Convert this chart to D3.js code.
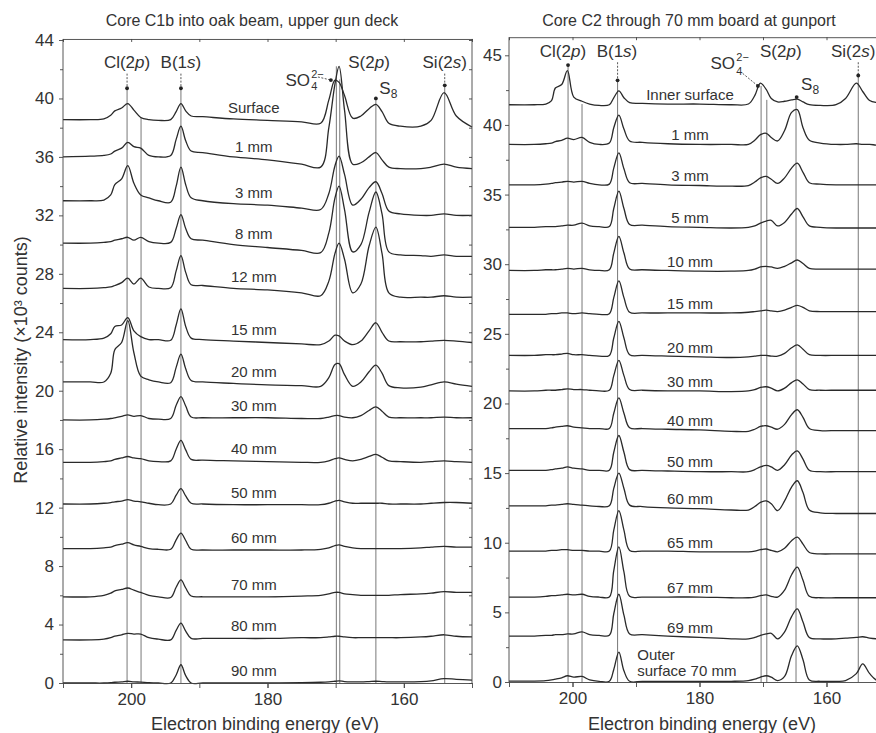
<!DOCTYPE html>
<html>
<head>
<meta charset="utf-8">
<script src="https://cdn.jsdelivr.net/npm/d3@7"></script>
<style>
  body { margin: 0; background: #fff; }
  svg { font-family: "Liberation Sans", Arial, Helvetica, sans-serif; }
  .trace { fill: none; stroke: #2a2a2a; stroke-width: 1.3; }
  .ref { stroke: #555; stroke-width: 0.8; }
  .axis path, .axis line { stroke: #444; stroke-width: 0.9; }
  .axis text { font-size: 17px; fill: #333; }
  .lbl { font-size: 15px; fill: #333; }
  .ann { font-size: 17px; fill: #333; }
</style>
</head>
<body>
<svg width="876" height="733"></svg>
<script>
// ---- left panel: core C1b into oak beam ----
// energy grid (eV), shared by every spectrum of the panel
var energyLeft = [210, 206, 204, 203, 202.4, 201.4, 200.5, 199.6, 198.6, 197.4, 196, 194.2, 193.4, 192.7, 192.0, 191.2, 189.5, 185, 180, 175,
                  172.2, 171.0, 170.1, 169.5, 168.7, 167.5, 166.3, 165.1, 164.1, 163.2, 162.2, 160.5, 157.5, 156, 154.1, 152.3, 150];
var labelsLeft = ["Surface", "1 mm", "3 mm", "8 mm", "12 mm", "15 mm", "20 mm", "30 mm", "40 mm", "50 mm", "60 mm", "70 mm", "80 mm", "90 mm"];
// intensities, x10^3 counts (offset spectra as printed)
var surfaceL = [38.55, 38.55, 38.6, 38.85, 39.15, 39.35, 39.65, 39.2, 38.7, 38.55, 38.5, 38.55, 39.1, 39.65, 39.15, 38.8, 38.75, 38.6, 38.5, 38.4, 38.3, 39.9, 41.25, 41.1, 40.2, 38.65, 38.8, 39.3, 39.6, 39.1, 38.3, 38.1, 38.1, 38.5, 40.4, 38.8, 38.05];
var mm1L  = [36.0, 36.05, 36.1, 36.2, 36.4, 36.6, 37.0, 36.7, 36.6, 36.1, 36.0, 36.1, 37.2, 38.1, 37.1, 36.4, 36.3, 36.0, 35.8, 35.5, 35.3, 38.0, 41.0, 42.2, 39.2, 35.5, 35.6, 36.0, 36.3, 35.8, 35.3, 35.2, 35.2, 35.3, 35.5, 35.3, 35.2];
var mm3L  = [33.0, 33.0, 33.05, 33.4, 34.1, 34.5, 35.4, 34.2, 33.4, 33.2, 33.0, 32.9, 34.0, 35.3, 34.1, 33.2, 33.0, 32.8, 32.7, 32.5, 32.4, 33.5, 35.4, 36.05, 34.8, 32.7, 33.1, 33.9, 34.3, 33.5, 32.3, 32.1, 32.0, 32.0, 32.1, 32.0, 32.0];
var mm8L  = [30.1, 30.1, 30.15, 30.2, 30.3, 30.4, 30.5, 30.3, 30.5, 30.2, 30.1, 30.15, 31.1, 32.05, 31.1, 30.4, 30.3, 30.0, 29.8, 29.6, 29.45, 30.8, 33.2, 34.0, 32.4, 29.5, 30.0, 32.2, 33.6, 32.1, 29.5, 29.3, 29.25, 29.2, 29.3, 29.2, 29.2];
var mm12L = [27.0, 27.0, 27.05, 27.1, 27.2, 27.4, 27.7, 27.3, 27.7, 27.1, 27.0, 27.05, 28.2, 29.25, 28.1, 27.25, 27.2, 27.0, 26.9, 26.7, 26.5, 27.5, 29.4, 30.1, 29.0, 26.7, 27.3, 29.9, 31.2, 29.4, 26.7, 26.4, 26.4, 26.4, 26.5, 26.4, 26.4];
var mm15L = [23.5, 23.5, 23.6, 23.9, 24.4, 24.5, 25.0, 24.1, 23.7, 23.5, 23.5, 23.45, 24.5, 25.6, 24.4, 23.6, 23.5, 23.4, 23.3, 23.2, 23.15, 23.4, 23.8, 23.75, 23.4, 23.15, 23.4, 24.1, 24.65, 24.0, 23.4, 23.35, 23.35, 23.4, 23.45, 23.4, 23.3];
var mm20L = [20.6, 20.6, 20.6, 21.2, 22.8, 23.3, 24.8, 22.6, 21.0, 20.75, 20.6, 20.55, 21.6, 22.5, 21.5, 20.7, 20.6, 20.5, 20.4, 20.35, 20.3, 20.9, 21.8, 21.85, 21.1, 20.3, 20.6, 21.3, 21.75, 21.2, 20.35, 20.2, 20.25, 20.4, 20.6, 20.45, 20.3];
var mm30L = [18.0, 18.0, 18.05, 18.1, 18.15, 18.25, 18.35, 18.25, 18.3, 18.1, 18.05, 18.1, 19.0, 19.6, 18.95, 18.2, 18.15, 18.15, 18.15, 18.1, 18.1, 18.2, 18.3, 18.3, 18.2, 18.15, 18.3, 18.65, 18.9, 18.6, 18.2, 18.15, 18.15, 18.15, 18.2, 18.15, 18.15];
var mm40L = [15.1, 15.1, 15.15, 15.2, 15.3, 15.4, 15.5, 15.4, 15.35, 15.2, 15.15, 15.2, 16.0, 16.6, 15.95, 15.3, 15.25, 15.2, 15.15, 15.1, 15.1, 15.2, 15.35, 15.4, 15.3, 15.2, 15.3, 15.5, 15.65, 15.45, 15.2, 15.15, 15.1, 15.15, 15.2, 15.15, 15.1];
var mm50L = [12.25, 12.25, 12.3, 12.35, 12.4, 12.45, 12.55, 12.45, 12.4, 12.3, 12.2, 12.25, 12.85, 13.3, 12.8, 12.3, 12.25, 12.2, 12.2, 12.2, 12.2, 12.3, 12.45, 12.5, 12.4, 12.3, 12.3, 12.3, 12.3, 12.3, 12.25, 12.25, 12.25, 12.3, 12.35, 12.35, 12.3];
var mm60L = [9.2, 9.2, 9.25, 9.3, 9.4, 9.5, 9.6, 9.45, 9.35, 9.2, 9.15, 9.15, 9.8, 10.25, 9.75, 9.15, 9.1, 9.1, 9.1, 9.1, 9.15, 9.25, 9.4, 9.45, 9.35, 9.25, 9.2, 9.2, 9.2, 9.2, 9.2, 9.2, 9.25, 9.3, 9.35, 9.3, 9.3];
var mm70L = [5.9, 5.9, 6.0, 6.15, 6.3, 6.4, 6.5, 6.35, 6.2, 6.0, 5.9, 5.85, 6.55, 7.05, 6.5, 5.95, 5.9, 5.9, 5.9, 5.95, 6.0, 6.1, 6.2, 6.2, 6.1, 6.05, 6.0, 6.0, 6.0, 6.0, 6.0, 6.05, 6.1, 6.15, 6.25, 6.2, 6.2];
var mm80L = [2.95, 2.95, 3.0, 3.1, 3.2, 3.3, 3.4, 3.35, 3.35, 3.1, 3.0, 2.95, 3.6, 4.1, 3.55, 3.05, 3.05, 3.05, 3.05, 3.1, 3.1, 3.15, 3.2, 3.2, 3.15, 3.1, 3.1, 3.1, 3.1, 3.1, 3.1, 3.1, 3.15, 3.2, 3.3, 3.2, 3.15];
var mm90L = [0.0, 0.0, 0.0, 0.02, 0.05, 0.08, 0.12, 0.08, 0.06, 0.02, 0.0, 0.0, 0.55, 1.25, 0.5, 0.0, 0.0, 0.0, 0.0, 0.02, 0.05, 0.08, 0.12, 0.15, 0.1, 0.08, 0.08, 0.1, 0.12, 0.1, 0.08, 0.08, 0.1, 0.15, 0.3, 0.25, 0.2];
var tracesLeft = [surfaceL, mm1L, mm3L, mm8L, mm12L, mm15L, mm20L, mm30L, mm40L, mm50L, mm60L, mm70L, mm80L, mm90L];
// peak reference lines (eV) and the value where each line starts
var refLeft = [200.6, 198.55, 192.7, 169.9, 169.4, 164.1, 154.0];
var refLeftTop = [40.7, 38.7, 40.7, 42.2, 41.3, 40.0, 40.9];

// ---- right panel: core C2 through 70 mm board ----
var energyRight = [210, 206, 204.2, 203.3, 202.7, 201.7, 200.8, 199.8, 198.5, 197.3, 195.8, 194.2, 193.5, 192.7, 191.9, 191.0, 189, 185, 180, 175,
                   172.3, 171.3, 170.4, 169.5, 168.7, 167.7, 166.6, 165.5, 164.6, 163.7, 162.7, 161, 158.5, 157, 155.3, 154.3, 153.2, 152, 150];
var labelsRight = ["Inner surface", "1 mm", "3 mm", "5 mm", "10 mm", "15 mm", "20 mm", "30 mm", "40 mm", "50 mm", "60 mm", "65 mm", "67 mm", "69 mm", ""];
var innerR = [41.45, 41.45, 41.5, 41.75, 42.65, 42.9, 43.9, 42.0, 41.7, 41.5, 41.4, 41.45, 41.95, 42.45, 41.95, 41.6, 41.55, 41.5, 41.5, 41.45, 41.5, 42.1, 43.0, 42.55, 41.9, 41.65, 41.7, 41.8, 41.85, 41.65, 41.45, 41.4, 41.45, 41.9, 43.0, 42.4, 41.75, 41.6, 41.55];
var mm1R  = [38.6, 38.6, 38.65, 38.7, 38.8, 38.9, 39.05, 38.95, 39.1, 38.75, 38.6, 38.7, 39.8, 40.7, 39.7, 38.85, 38.75, 38.65, 38.6, 38.6, 38.6, 38.9, 39.3, 39.4, 39.1, 38.85, 39.6, 40.9, 41.1, 39.8, 38.9, 38.7, 38.6, 38.6, 38.65, 38.6, 38.6, 38.55, 38.55];
var mm3R  = [35.7, 35.7, 35.75, 35.8, 35.85, 35.9, 35.95, 35.9, 35.95, 35.8, 35.7, 35.75, 36.9, 38.0, 36.85, 35.85, 35.8, 35.7, 35.65, 35.6, 35.65, 35.9, 36.2, 36.3, 36.1, 35.8, 36.2, 36.9, 37.25, 36.6, 35.85, 35.75, 35.7, 35.7, 35.7, 35.7, 35.7, 35.7, 35.7];
var mm5R  = [32.65, 32.65, 32.7, 32.7, 32.7, 32.75, 32.8, 32.8, 32.95, 32.75, 32.7, 32.7, 34.0, 35.25, 34.0, 32.85, 32.8, 32.7, 32.65, 32.6, 32.65, 32.75, 32.95, 33.1, 33.15, 32.75, 33.0, 33.6, 34.0, 33.4, 32.75, 32.65, 32.6, 32.6, 32.6, 32.6, 32.6, 32.6, 32.6];
var mm10R = [29.55, 29.55, 29.6, 29.6, 29.6, 29.65, 29.7, 29.65, 29.7, 29.6, 29.55, 29.6, 30.8, 32.0, 30.8, 29.65, 29.6, 29.55, 29.5, 29.5, 29.55, 29.65, 29.8, 29.85, 29.8, 29.7, 29.85, 30.1, 30.3, 30.05, 29.7, 29.65, 29.65, 29.65, 29.65, 29.65, 29.65, 29.65, 29.65];
var mm15R = [26.4, 26.4, 26.4, 26.45, 26.45, 26.5, 26.5, 26.45, 26.5, 26.45, 26.4, 26.45, 27.6, 28.8, 27.6, 26.55, 26.5, 26.5, 26.5, 26.5, 26.55, 26.6, 26.65, 26.7, 26.65, 26.6, 26.7, 26.9, 27.05, 26.9, 26.65, 26.6, 26.6, 26.6, 26.6, 26.6, 26.6, 26.6, 26.6];
var mm20R = [23.45, 23.45, 23.5, 23.5, 23.5, 23.55, 23.6, 23.5, 23.5, 23.45, 23.4, 23.45, 24.7, 25.9, 24.7, 23.5, 23.45, 23.4, 23.35, 23.3, 23.35, 23.4, 23.45, 23.45, 23.4, 23.4, 23.6, 24.0, 24.2, 23.9, 23.5, 23.45, 23.45, 23.45, 23.45, 23.45, 23.45, 23.45, 23.45];
var mm30R = [20.9, 20.9, 20.95, 20.95, 20.95, 21.0, 21.05, 21.0, 21.0, 20.95, 20.9, 20.95, 22.0, 23.1, 22.0, 21.0, 20.95, 20.9, 20.9, 20.85, 20.9, 21.0, 21.15, 21.2, 21.1, 20.9, 21.1, 21.5, 21.7, 21.4, 21.0, 20.95, 20.95, 20.95, 20.95, 20.95, 20.95, 20.95, 20.95];
var mm40R = [18.2, 18.2, 18.2, 18.25, 18.3, 18.35, 18.4, 18.3, 18.25, 18.2, 18.2, 18.2, 19.3, 20.4, 19.3, 18.25, 18.2, 18.15, 18.1, 18.0, 18.0, 18.15, 18.35, 18.4, 18.3, 18.15, 18.5, 19.2, 19.55, 19.0, 18.2, 18.05, 18.05, 18.05, 18.05, 18.05, 18.05, 18.05, 18.05];
var mm50R = [15.2, 15.2, 15.2, 15.25, 15.3, 15.35, 15.45, 15.35, 15.3, 15.2, 15.2, 15.2, 16.5, 17.7, 16.5, 15.25, 15.2, 15.15, 15.1, 15.1, 15.1, 15.25, 15.45, 15.55, 15.45, 15.2, 15.6, 16.3, 16.6, 16.0, 15.2, 15.1, 15.1, 15.1, 15.1, 15.1, 15.1, 15.1, 15.1];
var mm60R = [12.65, 12.65, 12.65, 12.7, 12.7, 12.75, 12.8, 12.75, 12.7, 12.65, 12.6, 12.65, 13.9, 15.0, 13.9, 12.7, 12.6, 12.5, 12.45, 12.35, 12.35, 12.6, 12.9, 13.0, 12.8, 12.3, 13.0, 14.0, 14.45, 13.6, 12.35, 12.15, 12.1, 12.1, 12.1, 12.1, 12.1, 12.1, 12.1];
var mm65R = [9.4, 9.4, 9.4, 9.45, 9.45, 9.5, 9.5, 9.45, 9.45, 9.4, 9.4, 9.4, 10.9, 12.3, 10.9, 9.45, 9.4, 9.4, 9.35, 9.35, 9.35, 9.4, 9.5, 9.55, 9.45, 9.35, 9.6, 10.15, 10.4, 9.9, 9.3, 9.2, 9.2, 9.2, 9.2, 9.2, 9.2, 9.2, 9.2];
var mm67R = [6.1, 6.1, 6.15, 6.2, 6.2, 6.25, 6.3, 6.25, 6.3, 6.15, 6.1, 6.1, 8.0, 9.7, 7.9, 6.15, 6.1, 6.1, 6.1, 6.05, 6.05, 6.1, 6.2, 6.25, 6.15, 6.1, 6.6, 7.7, 8.25, 7.3, 6.15, 6.05, 6.05, 6.05, 6.05, 6.05, 6.05, 6.05, 6.05];
var mm69R = [3.3, 3.3, 3.35, 3.35, 3.4, 3.4, 3.45, 3.45, 3.6, 3.4, 3.35, 3.35, 4.9, 6.3, 4.8, 3.45, 3.4, 3.3, 3.2, 3.1, 3.1, 3.2, 3.35, 3.45, 3.5, 3.1, 3.6, 4.7, 5.25, 4.3, 3.2, 3.1, 3.1, 3.15, 3.2, 3.25, 3.15, 3.1, 3.1];
var outerR = [0.07, 0.07, 0.1, 0.15, 0.2, 0.3, 0.45, 0.35, 0.4, 0.15, 0.05, 0.05, 0.9, 2.15, 0.8, 0.05, 0.05, 0.05, 0.05, 0.05, 0.1, 0.2, 0.35, 0.45, 0.35, 0.1, 0.4, 1.9, 2.6, 1.6, 0.15, 0.05, 0.05, 0.1, 0.6, 1.3, 0.6, 0.1, 0.05];
var tracesRight = [innerR, mm1R, mm3R, mm5R, mm10R, mm15R, mm20R, mm30R, mm40R, mm50R, mm60R, mm65R, mm67R, mm69R, outerR];
var refRight = [200.7, 198.5, 192.9, 170.3, 169.4, 164.8, 155.0];
var refRightTop = [44.3, 41.5, 43.2, 42.8, 41.8, 42.0, 43.5];

var yTicksLeft = [0, 4, 8, 12, 16, 20, 24, 28, 32, 36, 40, 44];
var yTicksRight = [0, 5, 10, 15, 20, 25, 30, 35, 40, 45];
var xTicks = [200, 180, 160];
var xMinor = [210, 200, 190, 180, 170, 160, 150];

var svg = d3.select("svg");

// value of a spectrum at energy e, only used to seat the text labels
function valueAt(energy, vals, e) {
  for (var i = 0; i < energy.length - 1; i++) {
    if (e <= energy[i] && e >= energy[i + 1]) {
      var t = (energy[i] - e) / (energy[i] - energy[i + 1]);
      return vals[i] + t * (vals[i + 1] - vals[i]);
    }
  }
  return vals[0];
}

// Cl(2p) style label with the orbital letter in italics
function orbital(g, x, y, pre, letter, anchor) {
  var t = g.append("text").attr("class", "ann").attr("x", x).attr("y", y).attr("text-anchor", anchor || "middle");
  t.append("tspan").text(pre);
  t.append("tspan").attr("font-style", "italic").text(letter);
  t.append("tspan").text(")");
}

function pointer(g, x1, y1, x2, y2) {
  g.append("line").attr("x1", x1).attr("y1", y1).attr("x2", x2).attr("y2", y2)
    .attr("stroke", "#444").attr("stroke-width", 0.9).attr("stroke-dasharray", "2,1.5");
  g.append("circle").attr("cx", x2).attr("cy", y2).attr("r", 1.9).attr("fill", "#222");
}

// short ticks without labels
function bareTicks(sel) {
  sel.selectAll("text").remove();
  sel.select(".domain").remove();
}

function drawPanel(p) {
  var x = d3.scaleLinear().domain([210, 150]).range(p.xRange);
  var y = d3.scaleLinear().domain([0, p.yMax]).range(p.yRange);
  var g = svg.append("g");

  // reference lines through the peaks
  g.selectAll("line.ref").data(p.refs).enter().append("line")
    .attr("class", "ref")
    .attr("x1", function(d) { return x(d); })
    .attr("x2", function(d) { return x(d); })
    .attr("y1", function(d, i) { return y(p.refTops[i]); })
    .attr("y2", y(0));

  // spectra
  var line = d3.line()
    .x(function(d, i) { return x(p.energy[i]); })
    .y(function(d) { return y(d); })
    .curve(d3.curveCatmullRom.alpha(0.5));
  g.selectAll("path.trace").data(p.traces).enter().append("path")
    .attr("class", "trace")
    .attr("d", line);

  // depth labels
  g.selectAll("text.lbl").data(p.traces).enter().append("text")
    .attr("class", "lbl")
    .attr("text-anchor", "middle")
    .attr("x", x(p.labelEnergy))
    .attr("y", function(d) { return y(valueAt(p.energy, d, p.labelEnergy)) - p.labelGap; })
    .text(function(d, i) { return p.labels[i]; });

  // axes
  g.append("g").attr("class", "axis")
    .attr("transform", "translate(0," + y(0) + ")")
    .call(d3.axisBottom(x).tickValues(xTicks).tickSize(5).tickSizeOuter(0).tickPadding(5));
  g.append("g").attr("class", "axis")
    .attr("transform", "translate(0," + y(0) + ")")
    .call(d3.axisBottom(x).tickValues(xMinor).tickSize(5))
    .call(bareTicks);
  g.append("g").attr("class", "axis")
    .attr("transform", "translate(0," + y(p.yTop) + ")")
    .call(d3.axisTop(x).tickValues(xMinor).tickSize(-3).tickSizeOuter(0))
    .selectAll("text").remove();

  var yAxis = g.append("g").attr("class", "axis")
    .attr("transform", "translate(" + p.xRange[0] + ",0)")
    .call(d3.axisLeft(y).tickValues(p.yTicks).tickSize(4).tickSizeOuter(0).tickPadding(p.yPad));
  yAxis.select(".domain").attr("d", "M0," + y(0) + "V" + y(p.yTop));
  g.append("g").attr("class", "axis")
    .attr("transform", "translate(" + p.xRange[0] + ",0)")
    .call(d3.axisLeft(y).tickValues(p.yMinor).tickSize(3))
    .call(bareTicks);

  if (p.rightFrame) {
    var r = g.append("g").attr("class", "axis")
      .attr("transform", "translate(" + p.xRange[1] + ",0)")
      .call(d3.axisRight(y).tickValues(p.yMinor.concat(p.yTicks)).tickSize(-3));
    r.selectAll("text").remove();
    r.select(".domain").attr("d", "M0," + y(0) + "V" + y(p.yTop));
  }

  // titles
  svg.append("text").attr("x", p.titleX).attr("y", 26).attr("text-anchor", "middle")
    .attr("font-size", 16).attr("fill", "#333").text(p.title);
  svg.append("text").attr("x", p.titleX + 13).attr("y", 730).attr("text-anchor", "middle")
    .attr("font-size", 18).attr("fill", "#333").text("Electron binding energy (eV)");

  return { x: x, y: y, g: g };
}

var L = drawPanel({
  xRange: [63, 472], yRange: [683, 40], yMax: 44, yTop: 44.07,
  energy: energyLeft, traces: tracesLeft, labels: labelsLeft,
  labelEnergy: 182, labelGap: 7,
  refs: refLeft, refTops: refLeftTop,
  yTicks: yTicksLeft, yMinor: [2, 6, 10, 14, 18, 22, 26, 30, 34, 38, 42], yPad: 5,
  rightFrame: true, title: "Core C1b into oak beam, upper gun deck", titleX: 252
});

var R = drawPanel({
  xRange: [509, 890], yRange: [682, 55.3], yMax: 45, yTop: 46.3,
  energy: energyRight, traces: tracesRight, labels: labelsRight,
  labelEnergy: 181.5, labelGap: 4,
  refs: refRight, refTops: refRightTop,
  yTicks: yTicksRight, yMinor: [2.5, 7.5, 12.5, 17.5, 22.5, 27.5, 32.5, 37.5, 42.5], yPad: 3,
  rightFrame: false, title: "Core C2 through 70 mm board at gunport", titleX: 689
});

// y axis title
svg.append("text")
  .attr("transform", "translate(27,360) rotate(-90)")
  .attr("text-anchor", "middle").attr("font-size", 18).attr("fill", "#333")
  .text("Relative intensity (\u00d710\u00b3 counts)");

// peak annotations, left panel
(function(p) {
  var x = p.x, y = p.y, g = p.g;
  orbital(g, x(200.6), y(42.1), "Cl(2", "p");
  pointer(g, x(200.6), y(41.7), x(200.6), y(40.7));
  orbital(g, x(192.7), y(42.1), "B(1", "s");
  pointer(g, x(192.7), y(41.7), x(192.7), y(40.7));
  orbital(g, x(165.1), y(42.1), "S(2", "p");
  orbital(g, x(154.0), y(42.1), "Si(2", "s");
  pointer(g, x(154.0), y(41.7), x(154.0), y(40.9));
  g.append("text").attr("class", "ann").attr("x", x(173.75)).attr("y", y(40.85)).attr("text-anchor", "end").text("SO");
  g.append("text").attr("x", x(173.6)).attr("y", y(41.4)).attr("font-size", 11).attr("fill", "#333").text("2\u2212");
  g.append("text").attr("x", x(173.6)).attr("y", y(40.6)).attr("font-size", 11).attr("fill", "#333").text("4");
  pointer(g, x(172.6), y(41.47), x(170.7), y(41.26));
  var s8 = g.append("text").attr("class", "ann").attr("x", x(163.6)).attr("y", y(40.3));
  s8.append("tspan").text("S");
  s8.append("tspan").attr("font-size", 12).attr("dy", 4).text("8");
  g.append("circle").attr("cx", x(164.1)).attr("cy", y(40.0)).attr("r", 1.9).attr("fill", "#222");
})(L);

// peak annotations, right panel
(function(p) {
  var x = p.x, y = p.y, g = p.g;
  orbital(g, x(201.5), y(44.9), "Cl(2", "p");
  g.append("circle").attr("cx", x(200.7)).attr("cy", y(44.3)).attr("r", 1.9).attr("fill", "#222");
  orbital(g, x(193.0), y(44.9), "B(1", "s");
  pointer(g, x(192.9), y(44.5), x(192.9), y(43.2));
  orbital(g, x(167.2), y(44.9), "S(2", "p");
  orbital(g, x(155.8), y(44.9), "Si(2", "s");
  pointer(g, x(155.0), y(44.5), x(155.0), y(43.55));
  g.append("text").attr("class", "ann").attr("x", x(174.4)).attr("y", y(44.0)).attr("text-anchor", "end").text("SO");
  g.append("text").attr("x", x(174.2)).attr("y", y(44.6)).attr("font-size", 11).attr("fill", "#333").text("2\u2212");
  g.append("text").attr("x", x(174.2)).attr("y", y(43.55)).attr("font-size", 11).attr("fill", "#333").text("4");
  pointer(g, x(173.2), y(43.7), x(170.8), y(42.8));
  var s8 = g.append("text").attr("class", "ann").attr("x", x(164.0)).attr("y", y(42.5));
  s8.append("tspan").text("S");
  s8.append("tspan").attr("font-size", 12).attr("dy", 4).text("8");
  g.append("circle").attr("cx", x(164.7)).attr("cy", y(42.0)).attr("r", 1.9).attr("fill", "#222");
  // two-line label for the outer surface spectrum
  g.append("text").attr("class", "lbl").attr("x", x(189.8)).attr("y", y(1.6)).text("Outer");
  g.append("text").attr("class", "lbl").attr("x", x(189.8)).attr("y", y(0.4)).text("surface 70 mm");
})(R);
</script>
</body>
</html>
